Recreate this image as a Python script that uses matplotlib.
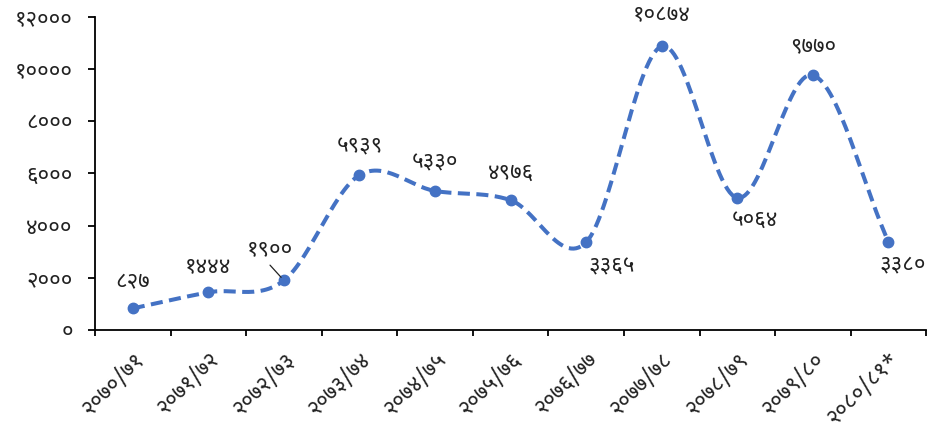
import numpy as np
import matplotlib
matplotlib.use("Agg")
import matplotlib.pyplot as plt
from matplotlib import font_manager, ft2font

# data (Nepali fiscal years)
years = ["२०७०/७१", "२०७१/७२", "२०७२/७३", "२०७३/७४", "२०७४/७५", "२०७५/७६",
         "२०७६/७७", "२०७७/७८", "२०७८/७९", "२०७९/८०", "२०८०/८१*"]
values = [827, 1444, 1900, 5939, 5330, 4976, 3365, 10874, 5064, 9770, 3380]
value_labels = ["८२७", "१४४४", "१९००", "५९३९", "५३३०", "४९७६",
                "३३६५", "१०८७४", "५०६४", "९७७०", "३३८०"]
yticks = [0, 2000, 4000, 6000, 8000, 10000, 12000]
ytick_labels = ["०", "२०००", "४०००", "६०००", "८०००", "१००००", "१२०००"]

# label offsets in pixels (dx, dy) from each point
offsets = [(0, 26), (0, 26), (-14, 31), (0, 28), (0, 28), (0, 27),
           (26, -25), (0, 31), (18, -22), (0, 28), (14, -23)]

BLUE = "#4472C4"


def pick_font():
    # need a family with devanagari digits
    have = set()
    for f in font_manager.fontManager.ttflist:
        try:
            cm = ft2font.FT2Font(f.fname).get_charmap()
        except Exception:
            continue
        if 0x0966 in cm and 0x096F in cm:
            have.add(f.name)
    for name in ["Noto Sans Devanagari", "Mukta", "Hind", "Poppins",
                 "Annapurna SIL", "Lohit Devanagari", "Akshar"]:
        if name in have:
            return name
    return sorted(have)[0] if have else "DejaVu Sans"


font = pick_font()
plt.rcParams["font.family"] = [font, "DejaVu Sans"]


def smooth(x, y, n=30):
    # catmull-rom style curve through the points, like excel's smoothed line
    px = np.concatenate([[2 * x[0] - x[1]], x, [2 * x[-1] - x[-2]]])
    py = np.concatenate([[2 * y[0] - y[1]], y, [2 * y[-1] - y[-2]]])
    xs, ys = [], []
    t = np.linspace(0, 1, n, endpoint=False)
    for i in range(1, len(px) - 2):
        for p, out in ((px, xs), (py, ys)):
            p0, p1, p2, p3 = p[i - 1], p[i], p[i + 1], p[i + 2]
            out.append(0.5 * (2 * p1 + (-p0 + p2) * t
                              + (2 * p0 - 5 * p1 + 4 * p2 - p3) * t ** 2
                              + (-p0 + 3 * p1 - 3 * p2 + p3) * t ** 3))
    xs.append([x[-1]])
    ys.append([y[-1]])
    return np.concatenate(xs), np.concatenate(ys)


x = np.arange(len(values), dtype=float)
y = np.array(values, dtype=float)
sx, sy = smooth(x, y)

fig = plt.figure(figsize=(9.35, 4.3), dpi=100)
ax = fig.add_axes([0.1016, 0.2326, 0.889, 0.7279])

ax.plot(sx, sy, color=BLUE, lw=2.9, ls=(0, (3.0, 1.6)), dash_capstyle="butt")
ax.plot(x, y, "o", color=BLUE, ms=7.5, zorder=3)

for i, (v, lab) in enumerate(zip(values, value_labels)):
    dx, dy = offsets[i]
    ax.annotate(lab, (i, v), xytext=(dx * 0.72, dy * 0.72), textcoords="offset points",
                ha="center", va="center", fontsize=16, color="#222222")

# leader line for the 1900 label
ax.annotate("", xy=(2, values[2]), xytext=(-10, 11), textcoords="offset points",
            arrowprops=dict(arrowstyle="-", color="#222222", lw=0.9,
                            shrinkA=0, shrinkB=3))

ax.set_xlim(-0.5, len(values) - 0.5)
ax.set_ylim(0, 12000)
ax.set_yticks(yticks)
ax.set_yticklabels(ytick_labels)

ax.set_xticks(np.arange(-0.5, len(values), 1.0))
ax.set_xticklabels([])
ax.set_xticks(x, minor=True)
ax.set_xticklabels(years, minor=True, rotation=45, ha="right", va="top",
                   rotation_mode="anchor")
ax.tick_params(axis="x", which="major", length=4.5, width=1.3, direction="out")
ax.tick_params(axis="x", which="minor", length=0, pad=13, labelsize=16,
               labelcolor="#222222")
ax.tick_params(axis="y", length=5, width=1.3, labelsize=16, pad=11,
               labelcolor="#222222")

for s in ["top", "right"]:
    ax.spines[s].set_visible(False)
for s in ["left", "bottom"]:
    ax.spines[s].set_linewidth(1.3)

fig.savefig("out.png", dpi=100)
